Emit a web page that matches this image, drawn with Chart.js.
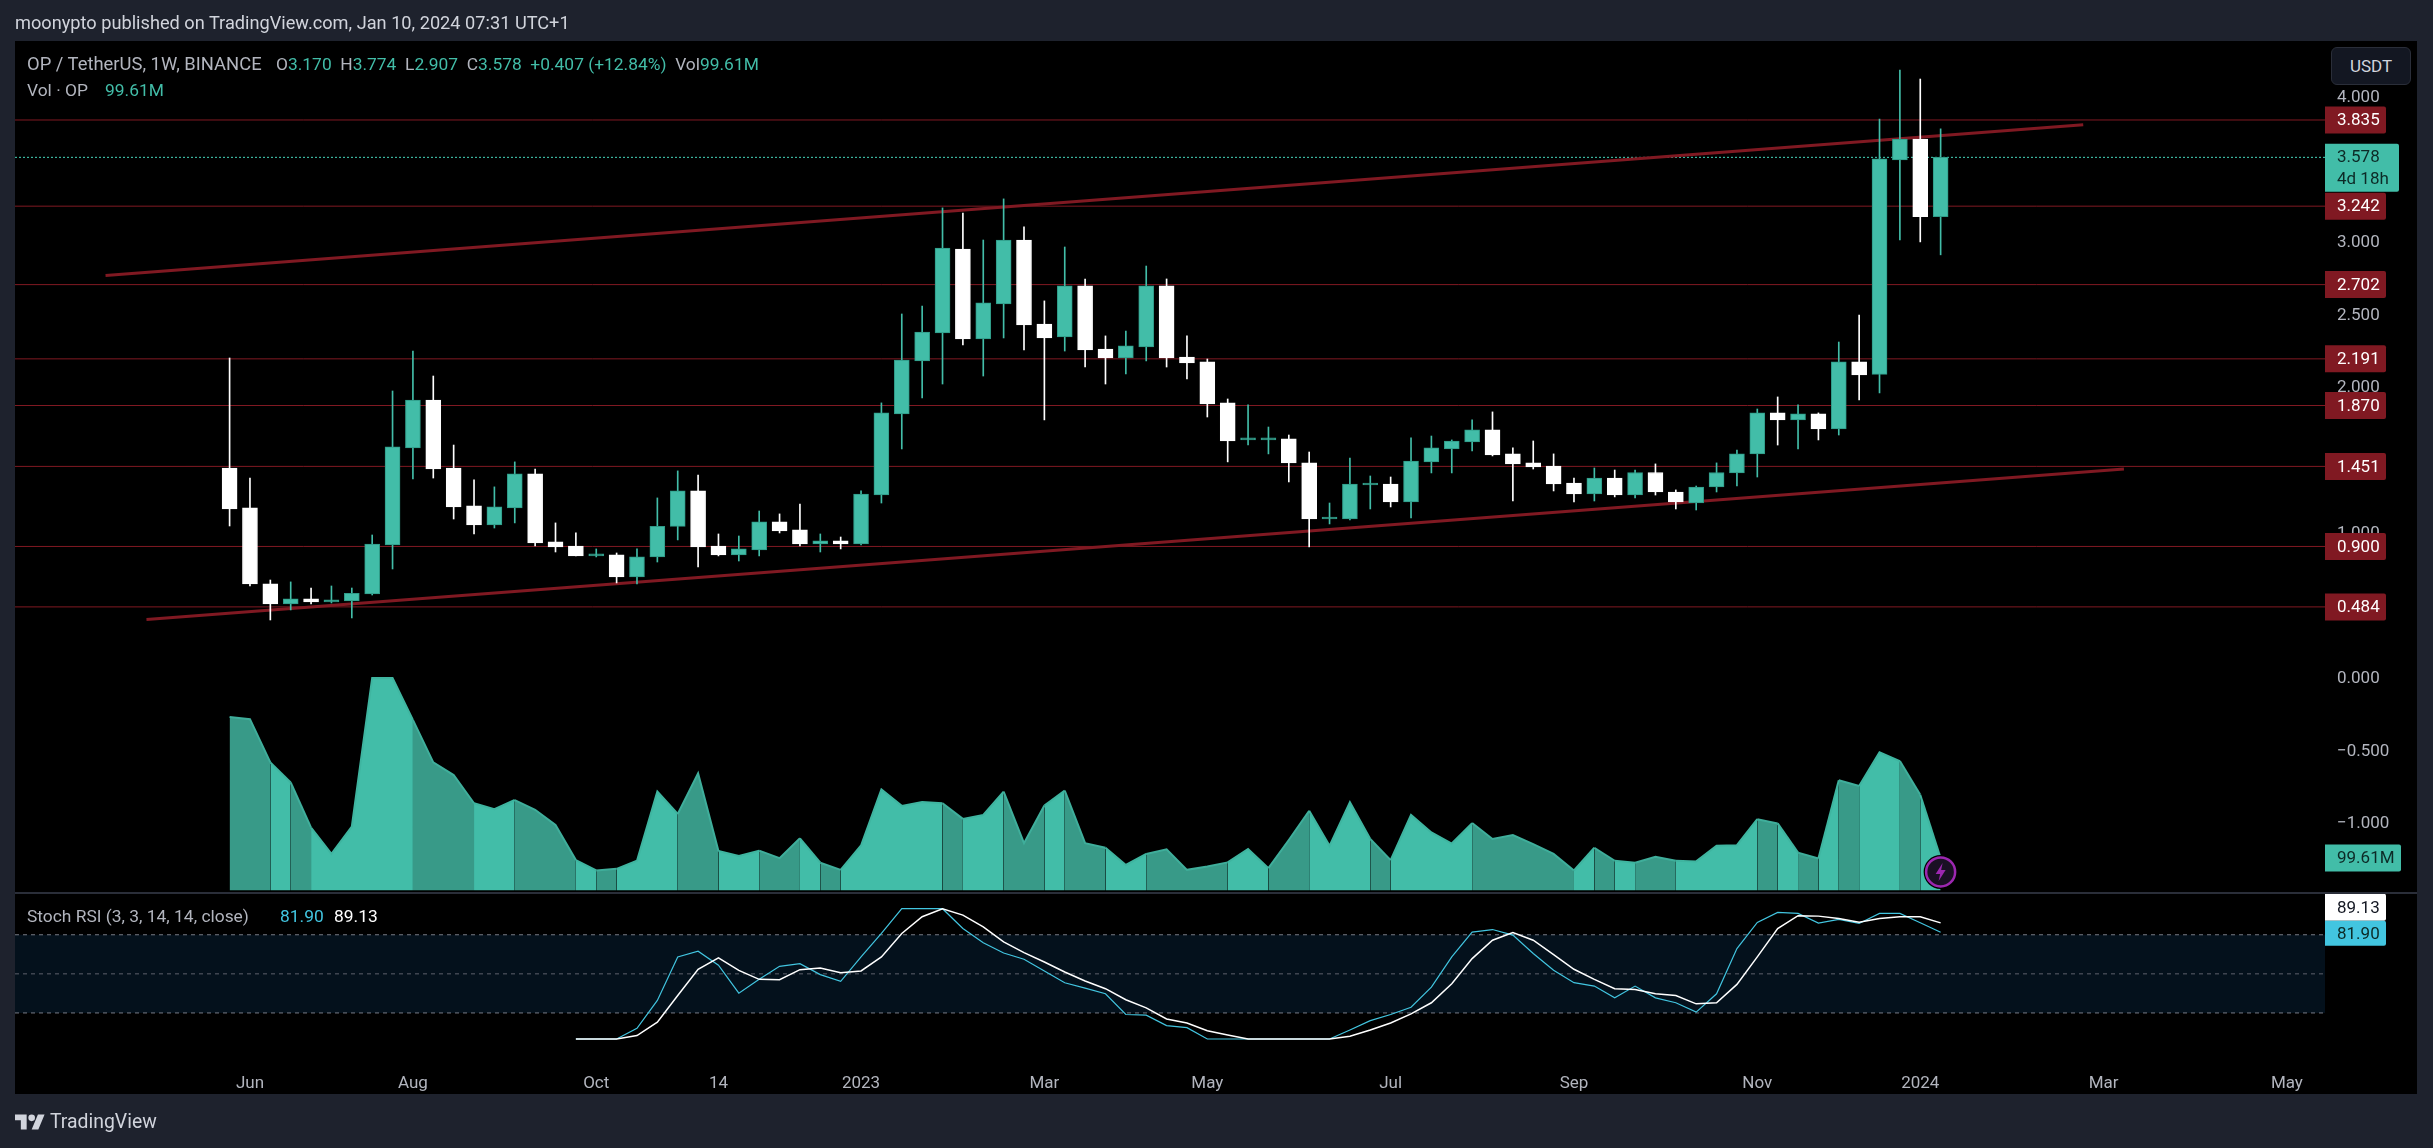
<!DOCTYPE html>
<html>
<head>
<meta charset="utf-8">
<title>OP / TetherUS</title>
<script src="https://cdn.jsdelivr.net/npm/chart.js@4/dist/chart.umd.js"></script>
<style>
  html, body { margin: 0; padding: 0; background: #1e222d; width: 2433px; height: 1148px; overflow: hidden; }
  body { font-family: Roboto, sans-serif; color: #b2b5be; }
  #pane { position: absolute; left: 15px; top: 41px; width: 2402px; height: 1053px; background: #000; }
  #chart { position: absolute; left: 0; top: 0; }
  #sep { position: absolute; left: 15px; top: 892px; width: 2402px; height: 2px; background: #2a2e39; }
  .txt { position: absolute; white-space: pre; font-size: 17.4px; line-height: 20px; }
  .up { color: #42bda8; }
  #usdt { position: absolute; left: 2331px; top: 47px; width: 78px; height: 36px; line-height: 36px; text-align: center;
          background: #131722; border: 1px solid #2a2e39; border-radius: 6px; color: #d1d4dc; font-size: 17px; }
</style>
</head>
<body>
<div id="pane"></div>
<canvas id="chart" width="2433" height="1148"></canvas>
<div id="sep"></div>
<div class="txt" style="left:15px;top:13px;color:#d1d4dc;font-size:18.2px">moonypto published on TradingView.com, Jan 10, 2024 07:31 UTC+1</div>
<div class="txt" style="left:27px;top:54px;font-size:18.4px">OP / TetherUS, 1W, BINANCE</div>
<div class="txt" style="left:276px;top:54px">O<span class="up">3.170</span>  H<span class="up">3.774</span>  L<span class="up">2.907</span>  C<span class="up">3.578</span>  <span class="up">+0.407 (+12.84%)</span>  Vol<span class="up">99.61M</span></div>
<div class="txt" style="left:27px;top:80px">Vol · OP</div>
<div class="txt up" style="left:105px;top:80px">99.61M</div>
<div class="txt" style="left:27px;top:906px">Stoch RSI (3, 3, 14, 14, close)</div>
<div class="txt" style="left:280px;top:906px;color:#42c5e0">81.90</div>
<div class="txt" style="left:334px;top:906px;color:#fff">89.13</div>
<div id="usdt">USDT</div>
<svg style="position:absolute;left:15px;top:1111px" width="30" height="22" viewBox="0 0 36 26" fill="#d1d4dc"><path d="M14 22H7V11H0V4h14v18zM28 22h-8l7.5-18h8L28 22z"/><circle cx="20" cy="8" r="4"/></svg>
<div class="txt" style="left:50px;top:1110px;color:#d1d4dc;font-size:19.4px;line-height:24px">TradingView</div>

<script>
// weekly candles, index 0 = first week of the chart
const opens = [1.440,1.165,.642,.504,.539,.518,.525,.573,.910,1.578,1.908,1.440,1.179,1.048,1.165,1.399,.931,.903,.835,.842,
  .690,.828,1.038,1.282,.903,.842,.876,1.069,1.014,.917,.938,.917,1.254,1.812,2.177,2.369,2.947,2.328,2.569,3.009,
  2.431,2.342,2.693,2.259,2.197,2.273,2.693,2.204,2.170,1.888,1.633,1.633,1.640,1.475,1.089,1.089,1.323,1.330,1.206,1.482,
  1.571,1.619,1.702,1.537,1.475,1.454,1.337,1.261,1.371,1.254,1.409,1.275,1.199,1.309,1.406,1.537,1.819,1.771,1.812,1.709,
  2.170,2.084,3.560,3.704,3.170];
const highs = [2.197,1.371,.669,.656,.614,.628,.614,.979,1.970,2.245,2.073,1.598,1.358,1.310,1.482,1.433,1.062,.993,.883,.855,
  .883,1.234,1.420,1.392,.986,.972,1.144,1.124,1.192,.986,.965,1.282,1.888,2.500,2.555,3.230,3.195,3.009,3.292,3.099,
  2.590,2.961,2.741,2.349,2.383,2.830,2.741,2.349,2.190,1.915,1.874,1.722,1.667,1.550,1.199,1.509,1.385,1.378,1.647,1.660,
  1.633,1.771,1.826,1.578,1.626,1.537,1.371,1.440,1.426,1.426,1.468,1.289,1.316,1.475,1.564,1.846,1.929,1.874,1.819,2.307,
  2.493,3.842,4.179,4.117,3.774];
const lows = [1.041,.628,.394,.463,.504,.511,.408,.566,.745,1.365,1.371,1.089,.986,1.027,1.062,.903,.862,.835,.828,.649,
  .642,.793,.945,.759,.835,.800,.835,.993,.903,.862,.883,.910,1.199,1.571,1.922,2.018,2.287,2.073,2.335,2.252,
  1.771,2.245,2.135,2.018,2.087,2.177,2.135,2.053,1.791,1.482,1.598,1.537,1.344,.897,1.055,1.082,1.158,1.172,1.096,1.406,
  1.406,1.557,1.523,1.213,1.433,1.282,1.206,1.213,1.241,1.234,1.254,1.158,1.151,1.275,1.316,1.378,1.598,1.571,1.633,1.667,
  1.908,1.956,3.009,2.996,2.907];
const closes = [1.158,.642,.504,.539,.518,.532,.577,.917,1.585,1.908,1.433,1.172,1.048,1.172,1.399,.924,.897,.835,.842,.690,
  .828,1.038,1.282,.897,.842,.883,1.069,1.007,.917,.938,.917,1.261,1.819,2.183,2.376,2.954,2.328,2.576,3.009,2.424,
  2.335,2.693,2.252,2.197,2.280,2.693,2.197,2.163,1.881,1.626,1.640,1.640,1.475,1.089,1.103,1.330,1.330,1.206,1.488,1.578,
  1.626,1.702,1.530,1.468,1.447,1.330,1.261,1.371,1.254,1.409,1.275,1.206,1.309,1.409,1.537,1.819,1.771,1.812,1.709,2.170,
  2.080,3.567,3.704,3.170,3.578];
// volume in millions
const volumes = [534,527,394,332,193,112,196,654,654,525,394,355,268,250,278,248,201,93,61,66,
  91,304,235,360,121,106,122,99,160,85,63,138,311,260,272,268,220,232,304,145,
  261,307,145,131,78,112,126,63,73,86,127,68,155,245,137,271,158,93,232,178,
  144,207,158,170,142,112,61,131,91,85,103,91,89,137,139,219,206,116,98,339,
  321,425,398,294,99.61];
// stoch rsi starts at week 17
const stochStart = 17;
const stochK = [0,0,0,8.2,29.6,63,67.4,56.6,35.2,45.8,55.8,57.8,49.4,44.2,63,81,100,100,100,84.8,
  73.8,66,61.2,52.2,43.2,39,34.7,18.8,18.3,10.3,8.7,0,0,0,0,0,0,0,6.9,14.1,
  18.8,24.4,39.8,63,82,84,79.7,65.6,52.7,43.2,40.6,31.6,40.6,31.6,27.8,20.6,34.7,69.4,89.5,97.2,
  96.4,88.9,91.8,88.7,96.4,96.4,89.2,81.90];
const stochD = [0,0,0,2.6,12.9,33.4,53.5,62.2,52.7,45.8,45.5,53.2,54.5,50.9,52.2,63,81,93.8,100,95.1,
  86.1,74.6,66.3,59.1,51.4,44.5,38.6,30.1,23.9,15.4,12.3,6.4,3.1,0,0,0,0,0,2.1,6.9,
  12.3,19.3,27.8,42.4,61.7,75.8,81.7,75.8,64.8,53.5,45.8,38.6,38,34.7,33.4,27,27.8,41.9,63,84.8,
  94.6,94.3,92.5,89.7,92.5,93.8,93.8,89.13];
const levels = [3.835,3.242,2.702,2.191,1.870,1.451,0.900,0.484];
const lastPrice = 3.578;
const stochBands = [80,50,20];
const priceTicks = [4,3.5,3,2.5,2,1.5,1,0.5,0,-0.5,-1];
const stochTicks = [80,40,0];
const timeTicks = [1,9,18,24,31,40,48,57,66,75,83,92,101];
const timeLabels = ['Jun','Aug','Oct','14','2023','Mar','May','Jul','Sep','Nov','2024','Mar','May'];
// drawn trend lines, [week, price]
const trendTop = [[-6.09,2.765],[91,3.803]];
const trendBottom = [[-4.08,0.397],[93,1.433]];

const UP = '#42bda8', UP_DARK = '#389a88', UP_EDGE = '#2f9a87', RED = '#801922', BLUE = '#42c5e0';
const X_MIN = -10.535, X_MAX = 102.87;

const weeks = opens.map((_, i) => i);
const isUp = i => closes[i] >= opens[i];
const candleColor = i => isUp(i) ? UP : '#ffffff';
const flat = (y, extra) => Object.assign({
  type: 'line', yAxisID: 'y', pointRadius: 0, borderWidth: 1, fill: false, tension: 0,
  data: [{x: X_MIN, y: y}, {x: X_MAX, y: y}]
}, extra);
const pts = pairs => pairs.map(p => ({x: p[0], y: p[1]}));

const datasets = [];
// stoch band first so everything sits on top of it
datasets.push(flat(stochBands[0], {yAxisID: 'yStoch', borderColor: '#787b86', borderDash: [4, 4], backgroundColor: '#04111c', fill: {value: stochBands[2]}, order: 20}));
datasets.push(flat(stochBands[1], {yAxisID: 'yStoch', borderColor: '#5d606b', borderDash: [4, 4], order: 19}));
datasets.push(flat(stochBands[2], {yAxisID: 'yStoch', borderColor: '#787b86', borderDash: [4, 4], order: 19}));
datasets.push({
  type: 'line', yAxisID: 'yVol', order: 15, pointRadius: 0, borderWidth: 2, tension: 0,
  data: weeks.map(i => ({x: i, y: volumes[i]})),
  fill: {value: 0}, backgroundColor: UP, borderColor: UP,
  segment: {
    backgroundColor: c => isUp(c.p1DataIndex) ? UP : UP_DARK,
    borderColor: c => isUp(c.p1DataIndex) ? '#3fb5a0' : '#3fae9b'
  }
});
levels.forEach(l => datasets.push(flat(l, {borderColor: RED, order: 12})));
datasets.push(flat(lastPrice, {borderColor: '#45d6bc', borderDash: [2, 2], order: 11}));
datasets.push({type: 'line', yAxisID: 'y', order: 10, pointRadius: 0, borderWidth: 3, borderColor: RED, data: pts(trendTop)});
datasets.push({type: 'line', yAxisID: 'y', order: 10, pointRadius: 0, borderWidth: 3, borderColor: RED, data: pts(trendBottom)});
datasets.push({
  type: 'bar', yAxisID: 'y', order: 6, grouped: false, barThickness: 1,
  data: weeks.map(i => ({x: i, y: [lows[i], highs[i]]})),
  backgroundColor: weeks.map(candleColor), borderWidth: 0
});
datasets.push({
  type: 'bar', yAxisID: 'y', order: 5, grouped: false, barThickness: 15, minBarLength: 2,
  data: weeks.map(i => ({x: i, y: [opens[i], closes[i]]})),
  backgroundColor: weeks.map(candleColor),
  borderColor: weeks.map(i => isUp(i) ? UP_EDGE : '#ffffff'),
  borderWidth: 1, borderSkipped: false
});
datasets.push({type: 'line', yAxisID: 'yStoch', order: 3, pointRadius: 0, borderWidth: 1.2, borderColor: BLUE, data: stochK.map((v, i) => ({x: stochStart + i, y: v}))});
datasets.push({type: 'line', yAxisID: 'yStoch', order: 2, pointRadius: 0, borderWidth: 1.5, borderColor: '#ffffff', data: stochD.map((v, i) => ({x: stochStart + i, y: v}))});

// price labels on the right axis and the little bolt marker
const tagsPlugin = {
  id: 'tags',
  afterDraw(chart) {
    const c = chart.ctx, yP = chart.scales.y, yV = chart.scales.yVol, yS = chart.scales.yStoch, x = chart.scales.x;
    const left = chart.chartArea.right;
    const tag = (cy, h, w, bg, fg, lines) => {
      c.fillStyle = bg;
      c.beginPath();
      c.roundRect(left, cy - h / 2, w, h, [0, 2, 2, 0]);
      c.fill();
      c.fillStyle = fg;
      c.font = '17px Roboto';
      c.textAlign = 'left';
      c.textBaseline = 'middle';
      lines.forEach((t, i) => c.fillText(t, left + 12, cy + (i - (lines.length - 1) / 2) * 22 + 1));
    };
    levels.forEach(l => tag(yP.getPixelForValue(l), 27, 61, RED, '#ffffff', [l.toFixed(3)]));
    tag(yP.getPixelForValue(lastPrice) + 10.5, 48, 74, UP, '#0c2a26', [lastPrice.toFixed(3), '4d 18h']);
    tag(yV.getPixelForValue(volumes[84]), 27, 76, UP, '#0c2a26', ['99.61M']);
    tag(yS.getPixelForValue(stochD[stochD.length - 1]) - 15.5, 27, 61, '#ffffff', '#131722', [stochD[stochD.length - 1].toFixed(2)]);
    tag(yS.getPixelForValue(stochK[stochK.length - 1]) + 1, 25, 61, BLUE, '#0c2a26', [stochK[stochK.length - 1].toFixed(2)]);

    // bolt
    const bx = x.getPixelForValue(84), by = yV.getPixelForValue(volumes[84]) + 14;
    c.beginPath(); c.arc(bx, by, 17, 0, Math.PI * 2); c.fillStyle = '#000'; c.fill();
    c.beginPath(); c.arc(bx, by, 14.5, 0, Math.PI * 2); c.fillStyle = '#1a1024'; c.fill();
    c.lineWidth = 2.5; c.strokeStyle = '#9c27b0'; c.stroke();
    c.beginPath();
    c.moveTo(bx + 2, by - 9); c.lineTo(bx - 5, by + 2); c.lineTo(bx - 0.5, by + 2);
    c.lineTo(bx - 2, by + 9); c.lineTo(bx + 5, by - 2); c.lineTo(bx + 0.5, by - 2);
    c.closePath(); c.fillStyle = '#9c27b0'; c.fill();
  }
};

new Chart(document.getElementById('chart'), {
  data: {datasets: datasets},
  plugins: [tagsPlugin],
  options: {
    responsive: false,
    animation: false,
    devicePixelRatio: 1,
    layout: {padding: {left: 15, top: 41, right: 16, bottom: 54}},
    plugins: {legend: {display: false}, tooltip: {enabled: false}, title: {display: false}},
    scales: {
      x: {
        type: 'linear', min: X_MIN, max: X_MAX, offset: false,
        grid: {display: false, offset: false}, border: {display: false},
        afterBuildTicks: s => { s.ticks = timeTicks.map(v => ({value: v})); },
        afterFit: s => { s.height = 36; },
        ticks: {
          autoSkip: false, maxRotation: 0, padding: 8, color: '#b2b5be', font: {family: 'Roboto', size: 17},
          callback: (v, i) => timeLabels[i]
        }
      },
      y: {
        type: 'linear', position: 'right', min: -2.6206, max: 4.3787,
        grid: {display: false, drawTicks: false}, border: {display: false},
        afterBuildTicks: s => { s.ticks = priceTicks.map(v => ({value: v})); },
        afterFit: s => { s.width = 92; },
        ticks: {
          autoSkip: false, padding: 12, labelOffset: 1.5, color: '#b2b5be', font: {family: 'Roboto', size: 17},
          callback: v => (v < 0 ? '\u2212' : '') + Math.abs(v).toFixed(3)
        }
      },
      yStoch: {
        type: 'linear', position: 'right', weight: -1, min: -14.58, max: 765.9,
        grid: {display: false, drawTicks: false}, border: {display: false},
        afterBuildTicks: s => { s.ticks = stochTicks.map(v => ({value: v})); },
        afterFit: s => { s.width = 0; },
        ticks: {
          autoSkip: false, padding: 12, labelOffset: 1.5, color: '#b2b5be', font: {family: 'Roboto', size: 17},
          callback: v => v.toFixed(2)
        }
      },
      yVol: {type: 'linear', display: false, min: -516.6, max: 2616}
    }
  }
});
</script>
</body>
</html>
